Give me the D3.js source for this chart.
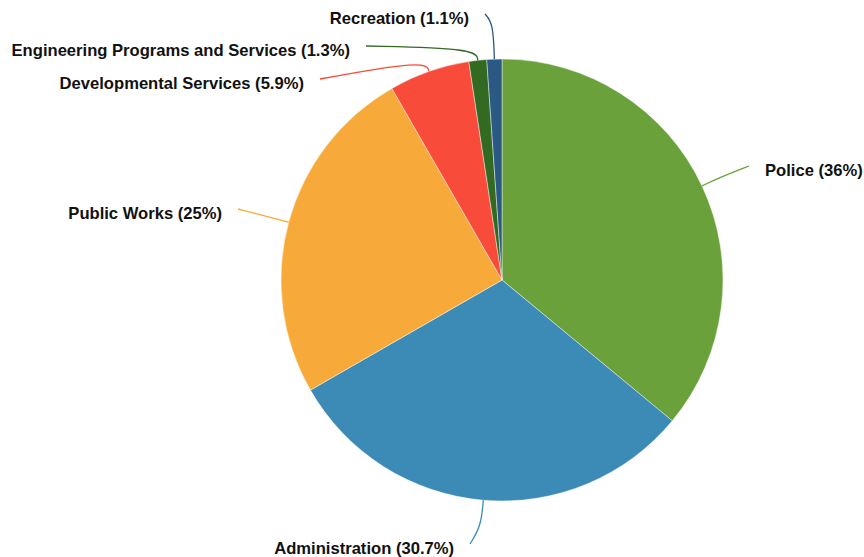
<!DOCTYPE html>
<html>
<head>
<meta charset="utf-8">
<script src="https://cdn.jsdelivr.net/npm/d3@7"></script>
<style>
  html, body { margin: 0; padding: 0; background: #fff; }
  svg { display: block; }
</style>
</head>
<body>
<svg id="chart" width="864" height="557"></svg>
<script>
// Budget share by department (percent of total)
const departments = ["Police", "Administration", "Public Works", "Developmental Services", "Engineering Programs and Services", "Recreation"];
const shares = [36, 30.7, 25, 5.9, 1.3, 1.1];
const sliceColors = ["#6aa13a", "#3c8bb6", "#f7aa39", "#f84b39", "#326a22", "#2a5a84"];

// Label placement: anchor point of the text, which side it sits on,
// and how far past the rim the leader line bends.
const labelAnchors = [
  { x: 765, y: 170, side: "right", bend: 20 },
  { x: 454, y: 548, side: "left",  bend: 26 },
  { x: 222, y: 213, side: "left",  bend: 20 },
  { x: 304, y: 83,  side: "left",  bend: 12 },
  { x: 350, y: 50,  side: "left",  bend: 12 },
  { x: 469, y: 18,  side: "left",  bend: 36 }
];

const width = 864, height = 557;
const cx = 502, cy = 280, radius = 221;
const gap = 16; // space between line end and text

const data = departments.map((name, i) => ({ name, value: shares[i], color: sliceColors[i], anchor: labelAnchors[i] }));

const svg = d3.select("#chart");
const g = svg.append("g").attr("transform", `translate(${cx},${cy})`);

const pie = d3.pie().value(d => d.value).sort(null);
const arc = d3.arc().innerRadius(0).outerRadius(radius);
const arcs = pie(data);

g.selectAll("path.slice")
  .data(arcs)
  .join("path")
  .attr("class", "slice")
  .attr("d", arc)
  .attr("fill", d => d.data.color)
  .attr("stroke", "#ffffff")
  .attr("stroke-opacity", 0.55)
  .attr("stroke-width", 0.8);

// Leader lines: rim point -> bend point -> label
const lineGen = d3.line().curve(d3.curveBasis);
function pointAt(angle, r) {
  return [Math.sin(angle) * r, -Math.cos(angle) * r];
}

g.selectAll("path.leader")
  .data(arcs)
  .join("path")
  .attr("class", "leader")
  .attr("fill", "none")
  .attr("stroke", d => d.data.color)
  .attr("stroke-width", 1.3)
  .attr("d", d => {
    const mid = (d.startAngle + d.endAngle) / 2;
    const a = d.data.anchor;
    const p0 = pointAt(mid, radius);
    const p1 = pointAt(mid, radius + a.bend);
    const ex = a.side === "right" ? a.x - gap : a.x + gap;
    const p2 = [ex - cx, a.y - 4 - cy];
    return lineGen([p0, p1, p2]);
  });

const fmt = v => `${v}%`;
svg.append("g")
  .selectAll("text")
  .data(data)
  .join("text")
  .attr("x", d => d.anchor.x)
  .attr("y", d => d.anchor.y)
  .attr("text-anchor", d => d.anchor.side === "right" ? "start" : "end")
  .attr("dominant-baseline", "central")
  .attr("font-family", "'Liberation Sans', Arial, Helvetica, sans-serif")
  .attr("font-weight", "bold")
  .attr("font-size", 16.6)
  .attr("fill", "#111")
  .text(d => `${d.name} (${fmt(d.value)})`);
</script>
</body>
</html>
